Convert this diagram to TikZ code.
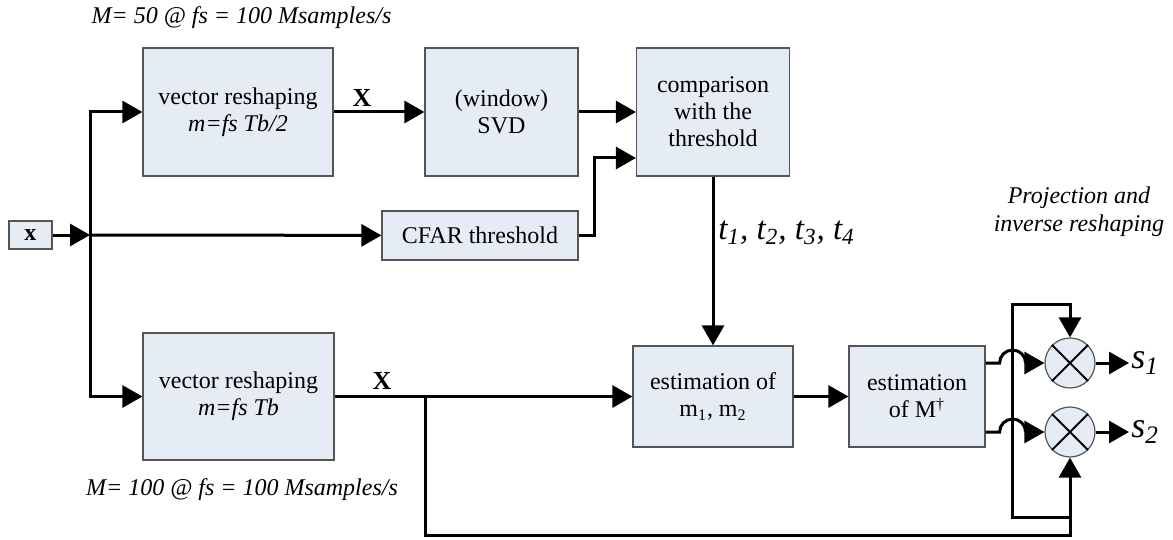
\documentclass[tikz,border=0pt]{standalone}
\usepackage{fontspec}
\setmainfont{Liberation Serif}
\usetikzlibrary{arrows.meta,calc}
\definecolor{blockfill}{RGB}{230,236,246}
\definecolor{blockline}{RGB}{85,85,85}

\tikzset{
  block/.style={draw=blockline, line width=0.6pt, fill=blockfill, align=center, inner sep=0pt, font=\fontsize{12}{13.5}\selectfont},
  flow/.style={line width=1.5pt, -{Triangle[length=10pt,width=11pt]}},
  mixer/.style={circle, draw=blockline, line width=0.6pt, fill=blockfill, minimum size=25pt, inner sep=0pt},
  note/.style={font=\fontsize{12}{14}\selectfont\itshape, align=center},
  outlbl/.style={font=\fontsize{18}{20}\selectfont\itshape, anchor=west, inner sep=1pt},
}

\begin{document}
\begin{tikzpicture}[x=0.5pt,y=-0.5pt]
\useasboundingbox (0,0) rectangle (1173,540);

% upper branch
\node[block, minimum width=95pt, minimum height=64pt] (vrtop) at (238,112) {vector reshaping\\\textit{m=fs Tb/2}};
\node[block, minimum width=76.5pt, minimum height=64pt] (svd) at (501.5,112) {(window)\\SVD};
\node[block, minimum width=76.5pt, minimum height=64pt] (cmp) at (713,112) {comparison\\with the\\threshold};
\node[block, minimum width=98pt, minimum height=24.5pt] (cfar) at (480,235.5) {CFAR threshold};
\node[block, minimum width=21.5pt, minimum height=14pt] (xin) at (30.5,235) {\textbf{x}};

% lower branch
\node[block, minimum width=95.5pt, minimum height=63.5pt] (vrbot) at (238.5,396.5) {vector reshaping\\\textit{m=fs Tb}};
\node[block, minimum width=80pt, minimum height=50.5pt] (estm) at (713,396.5) {estimation of\\m\textsubscript{1}, m\textsubscript{2}};
\node[block, minimum width=68pt, minimum height=50.5pt] (estM) at (917,396.5) {estimation\\of M\textsuperscript{\dag}};

% multipliers
\node[mixer] (mult1) at (1070,363) {};
\node[mixer] (mult2) at (1070,432) {};
\foreach \m in {mult1,mult2}
  \draw[line width=1pt] (\m.45) -- (\m.225) (\m.135) -- (\m.315);

% labels
\node[note] (lbltop) at (241.5,18) {M= 50 @ fs = 100 Msamples/s};
\node[note] (lblbot) at (242,490) {M= 100 @ fs = 100 Msamples/s};
\node[note] (proj) at (1079,212) {Projection and\\inverse reshaping};
\node[font=\fontsize{16.5}{18}\selectfont\itshape, anchor=west, inner sep=1pt] (tlist) at (716,233) {t\textsubscript{1}, t\textsubscript{2}, t\textsubscript{3}, t\textsubscript{4}};
\node[font=\fontsize{13}{15}\selectfont\bfseries] (xtop) at (362,98) {X};
\node[font=\fontsize{13}{15}\selectfont\bfseries] (xbot) at (382,381) {X};
\node[outlbl] (s1) at (1129,363) {s\textsubscript{1}};
\node[outlbl] (s2) at (1129,432) {s\textsubscript{2}};

% connections
\coordinate (split) at (90,235);
\draw[flow] (xin) -- (split);
\draw[flow] (split) -- (cfar);
\draw[flow] (split) |- (vrtop);
\draw[flow] (split) |- (vrbot);
\draw[flow] (vrtop) -- (svd);
\draw[flow] (svd) -- (cmp);
\draw[flow] (cfar.east) -- ++(16,0) |- ([yshift=-23pt]cmp.west);
\draw[flow] (cmp) -- (estm);
\draw[flow] (vrbot) -- (estm);
\draw[flow] (estm) -- (estM);

\coordinate (xb) at (425,396.5);
\draw[flow] (xb) -- ++(0,138.5) -| (mult2.south);
\coordinate (tap) at (1070,517);
\draw[flow] (tap) -| ++(-58,-213) -| (mult1.north);

\draw[flow] (estM.east |- mult1) -- ++(14,0) arc (180:0:6.5pt) -- (mult1);
\draw[flow] (estM.east |- mult2) -- ++(14,0) arc (180:0:6.5pt) -- (mult2);
\draw[flow] (mult1) -- (s1);
\draw[flow] (mult2) -- (s2);
\end{tikzpicture}
\end{document}
